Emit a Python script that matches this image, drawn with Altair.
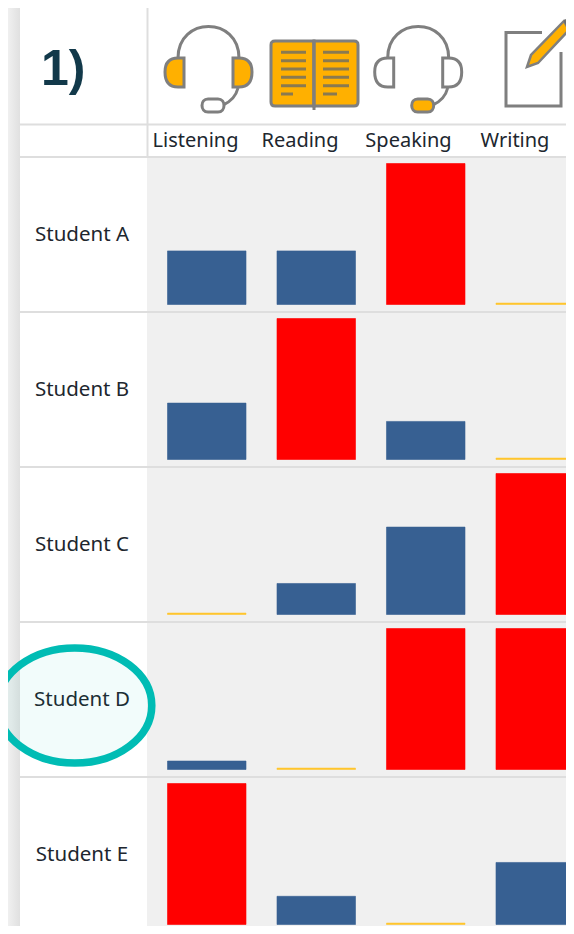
import altair as alt
import pandas as pd

students = ["Student A", "Student B", "Student C", "Student D", "Student E"]
skills = ["Listening", "Reading", "Speaking", "Writing"]
listening = [38, 40, 1, 6, 100]
reading = [38, 100, 22, 1, 20]
speaking = [100, 27, 62, 100, 1]
writing = [1, 1, 100, 100, 44]
levels = ["low", "mid", "high"]
level_colors = ["#ffc62e", "#376092", "#ff0000"]

W, H = 558, 918
UNIT = 1.41
STEP = 155 / UNIT
BASE_PX = 916.5
LO = -(H - BASE_PX) / UNIT
HI = BASE_PX / UNIT
GRID = "#dedede"
TXT = "#20262e"
FONT = "Noto Sans"
GREY = "#7f7f7f"
ORANGE = "#ffb000"

rows = []
for i, s in enumerate(students):
    base = (len(students) - 1 - i) * STEP
    for sk, series in zip(skills, [listening, reading, speaking, writing]):
        v = series[i]
        lvl = "high" if v >= 100 else ("low" if v <= 1 else "mid")
        rows.append({"student": s, "skill": sk, "value": v, "level": lvl,
                     "bottom": base, "top": base + v})
df = pd.DataFrame(rows)
lab = pd.DataFrame({"student": students,
                    "pos": [(len(students) - 1 - i) * STEP + 49.6 for i in range(len(students))]})
one = alt.Data(values=[{"a": 1}])
yscale = alt.Scale(domain=[LO, HI], nice=False, zero=False)


def rect(x, x2, y, y2, **kw):
    return alt.Chart(one).mark_rect(**kw).encode(
        x=alt.value(x), x2=alt.value(x2), y=alt.value(y), y2=alt.value(y2))


def hline(py, x=12, x2=W):
    return alt.Chart(one).mark_rule(stroke=GRID, strokeWidth=2).encode(
        x=alt.value(x), x2=alt.value(x2), y=alt.value(py - 8))


def glyph(path, fill=None, stroke=GREY, sw=3.0):
    kw = dict(shape=path, size=4, stroke=stroke, strokeWidth=sw, opacity=1, strokeOpacity=1)
    if fill:
        kw.update(fill=fill, fillOpacity=1, filled=True)
    else:
        kw.update(filled=False, fill="transparent")
    return alt.Chart(one).mark_point(**kw).encode(x=alt.value(-8), y=alt.value(-8))


def headset(l, cupfill, micfill):
    band = f"M{178+l},58 C{178+l},16 {239+l},16 {239+l},58"
    cupL = f"M{184+l},58 L{184+l},87 L{178+l},87 C{168+l},87 {165+l},80 {165+l},72 C{165+l},64 {168+l},58 {178+l},58 Z"
    cupR = f"M{233+l},58 L{233+l},87 L{239+l},87 C{249+l},87 {252+l},80 {252+l},72 C{252+l},64 {249+l},58 {239+l},58 Z"
    boom = f"M{238+l},88 C{236+l},96 {230+l},102 {223+l},105"
    mic = f"M{208+l},99 L{218+l},99 C{226+l},99 {226+l},112 {218+l},112 L{208+l},112 C{200+l},112 {200+l},99 {208+l},99 Z"
    return [glyph(band), glyph(cupL, cupfill), glyph(cupR, cupfill), glyph(boom), glyph(mic, micfill)]


book_left = "M314,106 L275,106 C272,106 271,104 271,102 L271,45 C271,42 272,41 275,41 L314,41 Z"
book_right = "M314,106 L354,106 C357,106 358,104 358,102 L358,45 C358,42 357,41 354,41 L314,41 Z"
spine = "M314,41 L314,110"
book_marks = ""
for yy in [52.3, 60.7, 69, 77.3, 85.7]:
    book_marks += f"M281,{yy} L306,{yy} M323,{yy} L349,{yy} "
book_marks += "M281,94 L293,94 M323,94 L337,94"
paper = "M542,32.5 L506,32.5 L506,106 L561,106 L561,52"
pencil = "M527,67 L531,55 L564,21 L569,30 L538,63 Z"
pencil_cap = "M564,21 L569,17 L574,23 L569,30 Z"

bg = [
    rect(0, 12, 0, H, color=alt.LinearGradient(
        gradient="linear", x1=0, x2=1, y1=0, y2=0,
        stops=[alt.GradientStop(color="#f0f0f0", offset=0),
               alt.GradientStop(color="#e0e0e0", offset=1)])),
    rect(139, W, 149.5, H, color="#f0f0f0"),
]
lines = [hline(p) for p in [124.5, 157, 312, 467, 622, 777]]
vline = alt.Chart(one).mark_rule(stroke=GRID, strokeWidth=2).encode(
    x=alt.value(139.5), y=alt.value(0), y2=alt.value(149))

bars = alt.Chart(df).mark_bar(strokeWidth=0.6).encode(
    x=alt.X("skill:N", scale=alt.Scale(domain=skills, range=[159.5, 566.5], paddingInner=0.283, paddingOuter=0), axis=None),
    y=alt.Y("top:Q", scale=yscale, axis=None),
    y2="bottom:Q",
    color=alt.Color("level:N", scale=alt.Scale(domain=levels, range=level_colors), legend=None),
    stroke=alt.Color("level:N", scale=alt.Scale(domain=levels, range=level_colors), legend=None),
)

row_labels = alt.Chart(lab).mark_text(font=FONT, fontSize=20.5, color=TXT, align="center", baseline="middle").encode(
    x=alt.value(74), y=alt.Y("pos:Q", scale=yscale, axis=None), text="student:N")

headers = []
for label, cx in zip(skills, [187.5, 292, 400.5, 507]):
    headers.append(alt.Chart(alt.Data(values=[{"t": label}])).mark_text(
        font=FONT, fontSize=20, color=TXT, align="center", baseline="middle").encode(
        x=alt.value(cx), y=alt.value(133), text="t:N"))

title = alt.Chart(alt.Data(values=[{"t": "1)"}])).mark_text(
    font="Liberation Sans", fontWeight="bold", fontSize=50, color="#12394a", align="left", baseline="alphabetic").encode(
    x=alt.value(33), y=alt.value(77), text="t:N")

ellipse = alt.Chart(one).mark_point(
    shape="M-77,0 A77,57.6 0 1 1 77,0 A77,57.6 0 1 1 -77,0 Z", size=4, filled=True,
    fill="#00bcb4", fillOpacity=0.05, stroke="#00bcb4", strokeOpacity=1, strokeWidth=7.5, opacity=1,
).encode(x=alt.value(66.8), y=alt.value(697.5))

icons = (headset(0, ORANGE, "white") + headset(209.7, "white", ORANGE) +
         [glyph(book_left, ORANGE), glyph(book_right, ORANGE), glyph(spine),
          glyph(book_marks, None, "#8a7a50", 3), glyph(paper),
          glyph(pencil, ORANGE, GREY, 2.5), glyph(pencil_cap, "#6e6e6e", "#6e6e6e", 1)])

chart = alt.layer(*bg, *lines, vline, bars, row_labels, *headers, title, *icons, ellipse).properties(
    width=W, height=H, padding=0,
    autosize=alt.AutoSizeParams(type="none", contains="padding"),
).configure_view(stroke=None)

chart.save("out.html", embed_options={"renderer": "svg", "actions": False})
